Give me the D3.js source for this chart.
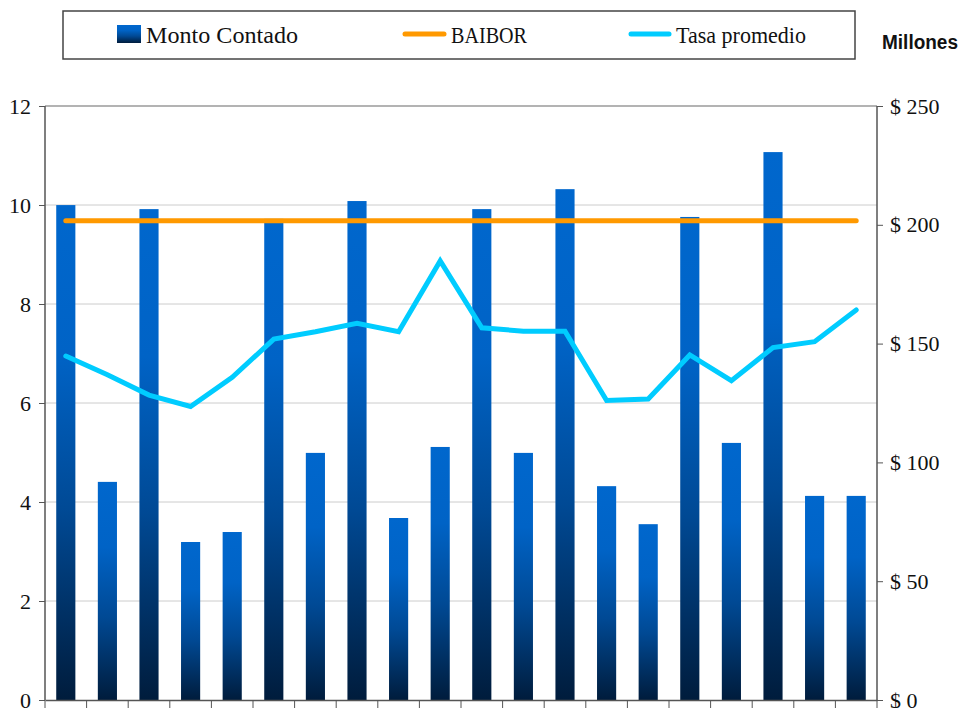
<!DOCTYPE html>
<html>
<head>
<meta charset="utf-8">
<script src="https://cdnjs.cloudflare.com/ajax/libs/d3/7.8.5/d3.min.js"></script>
<style>
  body { margin: 0; background: #fff; }
  svg { display: block; }
</style>
</head>
<body>
<div id="chart"></div>
<script>
// periods (no labels shown on the axis)
var periods = d3.range(1, 21).map(String);
// Monto Contado, millones (right axis)
var montoContado = [208.3, 91.8, 206.6, 66.5, 70.7, 202.5, 104, 210, 76.6, 106.5,
                    206.6, 104, 215, 90, 74, 203.3, 108.2, 230.6, 85.9, 85.9];
// BAIBOR (left axis)
var baibor = [9.68, 9.68, 9.68, 9.68, 9.68, 9.68, 9.68, 9.68, 9.68, 9.68,
              9.68, 9.68, 9.68, 9.68, 9.68, 9.68, 9.68, 9.68, 9.68, 9.68];
// Tasa promedio (left axis)
var tasaPromedio = [6.95, 6.57, 6.16, 5.93, 6.52, 7.29, 7.44, 7.61, 7.44, 8.87,
                    7.52, 7.45, 7.45, 6.05, 6.08, 6.97, 6.45, 7.12, 7.24, 7.88];
var leftTicks = [0, 2, 4, 6, 8, 10, 12];
var rightTicks = [0, 50, 100, 150, 200, 250];

var width = 962, height = 708;
var plotLeft = 45, plotRight = 877, plotTop = 106, plotBottom = 700;
var serif = "'Liberation Serif', 'DejaVu Serif', serif";

var svg = d3.select("#chart").append("svg")
    .attr("width", width)
    .attr("height", height);

var x = d3.scaleBand().domain(periods).range([plotLeft, plotRight])
    .paddingInner(0.54).paddingOuter(0.27);
var yLeft = d3.scaleLinear().domain([0, 12]).range([plotBottom, plotTop]);
var yRight = d3.scaleLinear().domain([0, 250]).range([plotBottom, plotTop]);

//bar gradient, per bar
var grad = svg.append("defs").append("linearGradient")
    .attr("id", "barGrad")
    .attr("x1", 0).attr("y1", 0).attr("x2", 0).attr("y2", 1);
grad.append("stop").attr("offset", "0%").attr("stop-color", "#0067CD");
grad.append("stop").attr("offset", "30%").attr("stop-color", "#0063C6");
grad.append("stop").attr("offset", "62%").attr("stop-color", "#004994");
grad.append("stop").attr("offset", "100%").attr("stop-color", "#001C3C");

//gridlines
svg.append("g")
    .selectAll("line").data(leftTicks.filter(function (d) { return d > 0; })).enter()
    .append("line")
    .attr("x1", plotLeft).attr("x2", plotRight)
    .attr("y1", function (d) { return yLeft(d); })
    .attr("y2", function (d) { return yLeft(d); })
    .attr("stroke", function (d) { return d === 12 ? "#9a9a9a" : "#cccccc"; })
    .attr("stroke-width", function (d) { return d === 12 ? 1.5 : 1; });

//bars
svg.append("g")
    .selectAll("rect").data(montoContado).enter()
    .append("rect")
    .attr("x", function (d, i) { return x(periods[i]); })
    .attr("width", x.bandwidth())
    .attr("y", function (d) { return yRight(d); })
    .attr("height", function (d) { return plotBottom - yRight(d); })
    .attr("fill", "url(#barGrad)");

//lines
var line = d3.line()
    .x(function (d, i) { return x(periods[i]) + x.bandwidth() / 2; })
    .y(function (d) { return yLeft(d); });

svg.append("path")
    .datum(baibor)
    .attr("d", line)
    .attr("fill", "none")
    .attr("stroke", "#FF9900")
    .attr("stroke-width", 5)
    .attr("stroke-linecap", "round");

svg.append("path")
    .datum(tasaPromedio)
    .attr("d", line)
    .attr("fill", "none")
    .attr("stroke", "#00CCFF")
    .attr("stroke-width", 5)
    .attr("stroke-linecap", "round")
    .attr("stroke-linejoin", "miter");

//axes
var axLeft = svg.append("g")
    .attr("transform", "translate(" + plotLeft + ",0)")
    .call(d3.axisLeft(yLeft).tickValues(leftTicks).tickSize(6).tickPadding(8));
var axRight = svg.append("g")
    .attr("transform", "translate(" + plotRight + ",0)")
    .call(d3.axisRight(yRight).tickValues(rightTicks).tickSize(6).tickPadding(7)
        .tickFormat(function (d) { return "$ " + d; }));
var axBottom = svg.append("g")
    .attr("transform", "translate(0," + plotBottom + ")")
    .call(d3.axisBottom(x).tickSize(0).tickFormat(""));

// category boundary ticks on the bottom axis
axBottom.selectAll(".bound").data(d3.range(periods.length + 1)).enter()
    .append("line")
    .attr("class", "bound")
    .attr("x1", function (d) { return plotLeft + d * x.step(); })
    .attr("x2", function (d) { return plotLeft + d * x.step(); })
    .attr("y1", 0).attr("y2", 8)
    .attr("stroke", "#555");

[axLeft, axRight, axBottom].forEach(function (g) {
    g.select(".domain").attr("stroke", "#555").attr("stroke-width", 1.5);
    g.selectAll(".tick line").attr("stroke", "#555");
    g.selectAll("text")
        .style("font-family", serif)
        .style("font-size", "22px")
        .attr("fill", "#111");
});
axRight.select(".domain").attr("d", "M0," + plotTop + "V" + plotBottom);
axLeft.select(".domain").attr("d", "M0," + plotTop + "V" + plotBottom);

//legend
var legend = svg.append("g");
legend.append("rect")
    .attr("x", 63).attr("y", 11)
    .attr("width", 792).attr("height", 48)
    .attr("fill", "#fff")
    .attr("stroke", "#444")
    .attr("stroke-width", 1.5);

legend.append("rect")
    .attr("x", 117).attr("y", 25)
    .attr("width", 24).attr("height", 18)
    .attr("fill", "url(#barGrad)");
legend.append("line")
    .attr("x1", 405).attr("x2", 444).attr("y1", 34).attr("y2", 34)
    .attr("stroke", "#FF9900").attr("stroke-width", 5).attr("stroke-linecap", "round");
legend.append("line")
    .attr("x1", 631).attr("x2", 669).attr("y1", 34).attr("y2", 34)
    .attr("stroke", "#00CCFF").attr("stroke-width", 5).attr("stroke-linecap", "round");

var legendText = [
    { label: "Monto Contado", x: 146, w: 152 },
    { label: "BAIBOR", x: 451, w: 76 },
    { label: "Tasa promedio", x: 676, w: 130 }
];
legend.selectAll(".ltxt").data(legendText).enter()
    .append("text")
    .attr("class", "ltxt")
    .attr("x", function (d) { return d.x; })
    .attr("y", 43)
    .attr("textLength", function (d) { return d.w; })
    .attr("lengthAdjust", "spacingAndGlyphs")
    .style("font-family", serif)
    .style("font-size", "24px")
    .attr("fill", "#111")
    .text(function (d) { return d.label; });

svg.append("text")
    .attr("x", 882)
    .attr("y", 49)
    .attr("textLength", 76)
    .attr("lengthAdjust", "spacingAndGlyphs")
    .style("font-family", "'Liberation Sans Narrow', 'Liberation Sans', Arial, sans-serif")
    .style("font-weight", "bold")
    .style("font-size", "20px")
    .attr("fill", "#111")
    .text("Millones");
</script>
</body>
</html>
